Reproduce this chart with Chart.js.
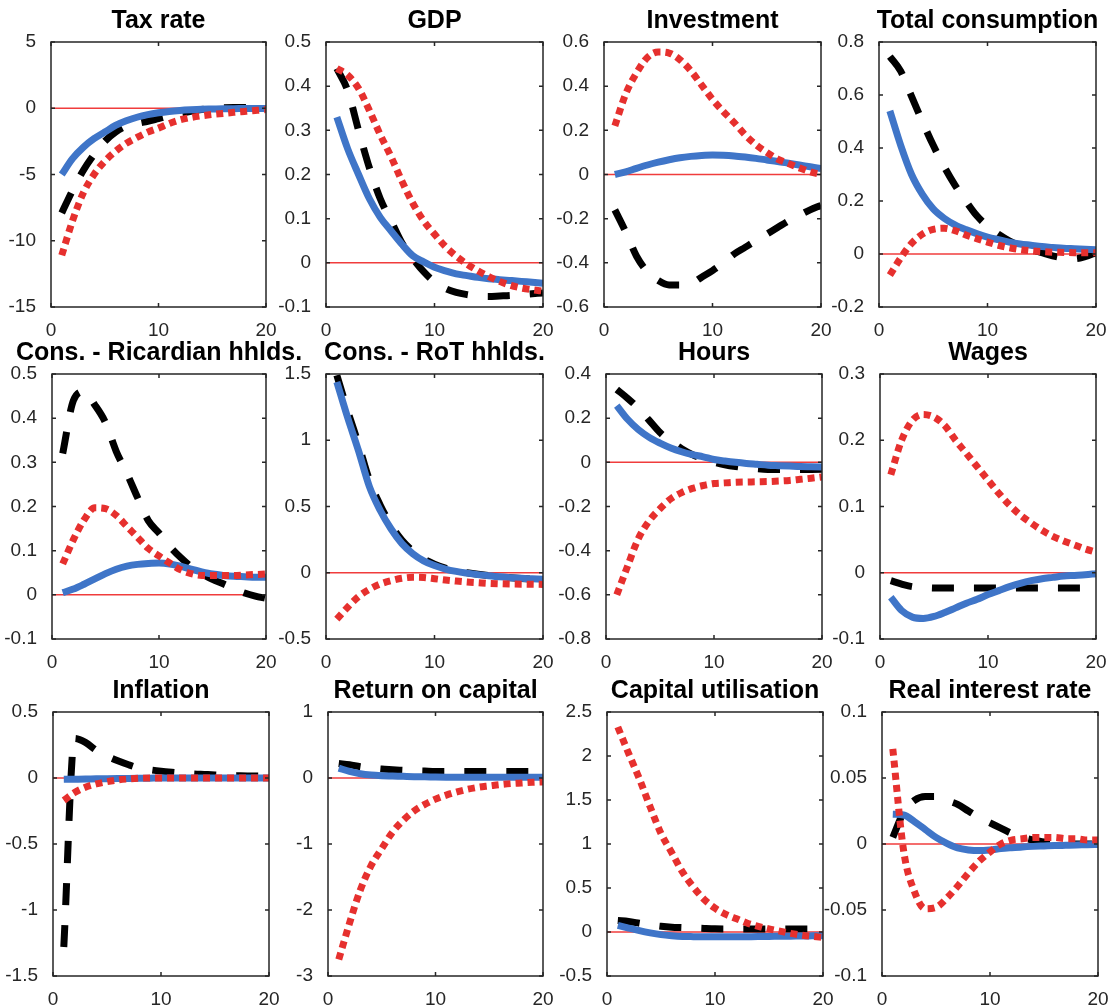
<!DOCTYPE html>
<html>
<head>
<meta charset="utf-8">
<title>Impulse responses</title>
<script src="https://cdn.jsdelivr.net/npm/chart.js@4.4.1/dist/chart.umd.min.js"></script>
<style>
  html, body { margin: 0; padding: 0; background: #fff; }
  #grid { position: relative; width: 1111px; height: 1007px; overflow: hidden; }
  #grid canvas { position: absolute; }
</style>
</head>
<body>
<div id="grid"></div>
<script>
const periods = [1, 2, 3, 4, 5, 6, 7, 8, 9, 10, 11, 12, 13, 14, 15, 16, 17, 18, 19, 20];
const xTicks = [0, 10, 20];

const titles = [
  'Tax rate', 'GDP', 'Investment', 'Total consumption',
  'Cons. - Ricardian hhlds.', 'Cons. - RoT hhlds.', 'Hours', 'Wages',
  'Inflation', 'Return on capital', 'Capital utilisation', 'Real interest rate'
];

// Tax rate
const taxTicks = [-15, -10, -5, 0, 5];
const taxSolid = [-5.0, -3.8, -2.95, -2.3, -1.8, -1.3, -0.95, -0.68, -0.48, -0.34, -0.24, -0.17, -0.12, -0.08, -0.06, -0.04, -0.03, -0.02, -0.01, -0.01];
const taxDashed = [-7.9, -6.2, -4.7, -3.5, -2.5, -1.8, -1.35, -1.15, -0.98, -0.78, -0.58, -0.4, -0.24, -0.1, 0.0, 0.04, 0.05, 0.05, 0.05, 0.05];
const taxDotted = [-11.1, -8.5, -6.4, -5.0, -4.0, -3.25, -2.65, -2.2, -1.8, -1.5, -1.15, -0.88, -0.7, -0.57, -0.47, -0.39, -0.31, -0.24, -0.17, -0.1];

// GDP
const gdpTicks = [-0.1, 0, 0.1, 0.2, 0.3, 0.4, 0.5];
const gdpSolid = [0.33, 0.258, 0.2, 0.145, 0.103, 0.072, 0.042, 0.016, 0.002, -0.01, -0.018, -0.025, -0.029, -0.033, -0.036, -0.038, -0.04, -0.042, -0.044, -0.046];
const gdpDashed = [0.44, 0.39, 0.30, 0.215, 0.145, 0.095, 0.045, 0.01, -0.02, -0.043, -0.058, -0.067, -0.072, -0.075, -0.076, -0.075, -0.074, -0.072, -0.07, -0.068];
const gdpDotted = [0.44, 0.425, 0.395, 0.345, 0.29, 0.24, 0.185, 0.135, 0.095, 0.065, 0.037, 0.015, -0.003, -0.018, -0.031, -0.042, -0.051, -0.057, -0.061, -0.064];

// Investment
const invTicks = [-0.6, -0.4, -0.2, 0, 0.2, 0.4, 0.6];
const invSolid = [0.0, 0.012, 0.028, 0.043, 0.056, 0.067, 0.076, 0.082, 0.086, 0.088, 0.087, 0.084, 0.079, 0.073, 0.066, 0.059, 0.051, 0.043, 0.035, 0.027];
const invDashed = [-0.16, -0.26, -0.37, -0.44, -0.48, -0.5, -0.5, -0.495, -0.465, -0.435, -0.4, -0.36, -0.33, -0.3, -0.27, -0.24, -0.21, -0.185, -0.16, -0.14];
const invDotted = [0.22, 0.365, 0.46, 0.53, 0.555, 0.55, 0.52, 0.47, 0.405, 0.34, 0.285, 0.235, 0.18, 0.135, 0.1, 0.07, 0.05, 0.03, 0.012, 0.0];

// Total consumption
const consTicks = [-0.2, 0, 0.2, 0.4, 0.6, 0.8];
const consSolid = [0.54, 0.41, 0.3, 0.225, 0.17, 0.135, 0.11, 0.092, 0.077, 0.064, 0.054, 0.045, 0.038, 0.033, 0.028, 0.025, 0.022, 0.02, 0.018, 0.016];
const consDashed = [0.745, 0.69, 0.595, 0.5, 0.41, 0.33, 0.26, 0.2, 0.145, 0.105, 0.075, 0.05, 0.032, 0.018, 0.005, -0.007, -0.015, -0.018, -0.01, 0.005];
const consDotted = [-0.08, -0.015, 0.04, 0.075, 0.093, 0.097, 0.088, 0.072, 0.058, 0.045, 0.033, 0.024, 0.017, 0.012, 0.009, 0.007, 0.006, 0.005, 0.005, 0.005];

// Cons. - Ricardian hhlds.
const ricTicks = [-0.1, 0, 0.1, 0.2, 0.3, 0.4, 0.5];
const ricSolid = [0.005, 0.013, 0.024, 0.036, 0.048, 0.058, 0.065, 0.069, 0.071, 0.072, 0.07, 0.065, 0.058, 0.052, 0.047, 0.044, 0.042, 0.041, 0.04, 0.04];
const ricDashed = [0.32, 0.44, 0.46, 0.43, 0.39, 0.325, 0.275, 0.22, 0.168, 0.14, 0.11, 0.085, 0.064, 0.048, 0.035, 0.025, 0.014, 0.004, -0.003, -0.008];
const ricDotted = [0.07, 0.125, 0.17, 0.197, 0.195, 0.18, 0.155, 0.13, 0.105, 0.088, 0.072, 0.057, 0.048, 0.044, 0.044, 0.044, 0.044, 0.045, 0.046, 0.047];

// Cons. - RoT hhlds.
const rotTicks = [-0.5, 0, 0.5, 1, 1.5];
const rotSolid = [1.44, 1.17, 0.92, 0.65, 0.47, 0.33, 0.22, 0.144, 0.09, 0.054, 0.028, 0.01, -0.003, -0.014, -0.023, -0.031, -0.037, -0.042, -0.046, -0.05];
const rotDashed = [1.49, 1.22, 0.97, 0.7, 0.51, 0.36, 0.245, 0.165, 0.105, 0.065, 0.035, 0.014, 0.0, -0.012, -0.022, -0.031, -0.038, -0.044, -0.049, -0.053];
const rotDotted = [-0.35, -0.26, -0.18, -0.125, -0.085, -0.06, -0.042, -0.034, -0.036, -0.045, -0.055, -0.063, -0.07, -0.075, -0.08, -0.083, -0.085, -0.086, -0.087, -0.088];

// Hours
const hoursTicks = [-0.8, -0.6, -0.4, -0.2, 0, 0.2, 0.4];
const hoursSolid = [0.257, 0.195, 0.148, 0.113, 0.087, 0.065, 0.048, 0.035, 0.025, 0.013, 0.006, 0.0, -0.005, -0.009, -0.013, -0.015, -0.017, -0.019, -0.02, -0.021];
const hoursDashed = [0.33, 0.29, 0.245, 0.19, 0.135, 0.095, 0.062, 0.035, 0.015, 0.0, -0.011, -0.019, -0.025, -0.029, -0.032, -0.033, -0.033, -0.033, -0.032, -0.031];
const hoursDotted = [-0.6, -0.47, -0.345, -0.265, -0.21, -0.165, -0.137, -0.118, -0.105, -0.096, -0.093, -0.09, -0.089, -0.088, -0.087, -0.085, -0.082, -0.077, -0.072, -0.066];

// Wages
const wagesTicks = [-0.1, 0, 0.1, 0.2, 0.3];
const wagesSolid = [-0.037, -0.057, -0.067, -0.069, -0.066, -0.06, -0.053, -0.046, -0.04, -0.033, -0.027, -0.021, -0.016, -0.012, -0.009, -0.007, -0.005, -0.004, -0.003, -0.0015];
const wagesDashed = [-0.012, -0.017, -0.021, -0.022, -0.023, -0.023, -0.023, -0.023, -0.023, -0.023, -0.023, -0.023, -0.023, -0.023, -0.023, -0.023, -0.023, -0.023, -0.023, -0.023];
const wagesDotted = [0.148, 0.2, 0.23, 0.239, 0.235, 0.222, 0.2, 0.18, 0.16, 0.14, 0.12, 0.102, 0.087, 0.075, 0.064, 0.055, 0.048, 0.042, 0.036, 0.031];

// Inflation
const inflTicks = [-1.5, -1, -0.5, 0, 0.5];
const inflSolid = [-0.01, -0.009, -0.008, -0.006, -0.005, -0.004, -0.003, -0.002, -0.001, 0, 0, 0, 0, 0, 0, 0, 0, 0, 0, 0];
const inflDashed = [-1.28, 0.3, 0.27, 0.21, 0.165, 0.13, 0.1, 0.075, 0.062, 0.052, 0.044, 0.037, 0.031, 0.027, 0.023, 0.02, 0.018, 0.016, 0.015, 0.014];
const inflDotted = [-0.17, -0.11, -0.07, -0.045, -0.028, -0.015, -0.007, -0.002, 0, 0, 0, 0, 0, 0, 0, 0, 0, 0, 0, 0];

// Return on capital
const rkTicks = [-3, -2, -1, 0, 1];
const rkSolid = [0.15, 0.1, 0.065, 0.045, 0.035, 0.03, 0.025, 0.02, 0.018, 0.015, 0.013, 0.012, 0.011, 0.01, 0.01, 0.01, 0.01, 0.01, 0.01, 0.01];
const rkDashed = [0.22, 0.2, 0.17, 0.15, 0.135, 0.125, 0.115, 0.11, 0.105, 0.1, 0.1, 0.1, 0.1, 0.1, 0.1, 0.1, 0.1, 0.1, 0.1, 0.1];
const rkDotted = [-2.75, -2.2, -1.7, -1.33, -1.07, -0.82, -0.64, -0.5, -0.4, -0.32, -0.26, -0.21, -0.17, -0.14, -0.12, -0.1, -0.085, -0.075, -0.065, -0.06];

// Capital utilisation
const utilTicks = [-0.5, 0, 0.5, 1, 1.5, 2, 2.5];
const utilSolid = [0.075, 0.045, 0.015, -0.01, -0.03, -0.042, -0.05, -0.053, -0.055, -0.055, -0.055, -0.054, -0.053, -0.052, -0.05, -0.049, -0.047, -0.046, -0.044, -0.042];
const utilDashed = [0.13, 0.12, 0.1, 0.08, 0.065, 0.055, 0.05, 0.045, 0.04, 0.036, 0.035, 0.035, 0.035, 0.035, 0.035, 0.035, 0.035, 0.035, 0.035, 0.035];
const utilDotted = [2.33, 2.03, 1.74, 1.42, 1.12, 0.9, 0.68, 0.51, 0.37, 0.27, 0.2, 0.15, 0.1, 0.065, 0.035, 0.01, -0.015, -0.035, -0.05, -0.062];

// Real interest rate
const rirTicks = [-0.1, -0.05, 0, 0.05, 0.1];
const rirSolid = [0.0225, 0.022, 0.017, 0.011, 0.005, 0.0005, -0.003, -0.0045, -0.005, -0.0045, -0.0035, -0.0028, -0.0022, -0.0018, -0.0015, -0.0012, -0.001, -0.0008, -0.0005, -0.0003];
const rirDashed = [0.005, 0.024, 0.033, 0.036, 0.036, 0.033, 0.03, 0.025, 0.02, 0.016, 0.012, 0.008, 0.005, 0.003, 0.0015, 0.001, 0.0005, 0.0, 0.0, 0.0];
const rirDotted = [0.072, -0.005, -0.036, -0.049, -0.048, -0.041, -0.032, -0.022, -0.013, -0.006, 0.0, 0.003, 0.004, 0.005, 0.005, 0.005, 0.004, 0.004, 0.003, 0.003];

const panels = [
  [taxTicks, taxSolid, taxDashed, taxDotted],
  [gdpTicks, gdpSolid, gdpDashed, gdpDotted],
  [invTicks, invSolid, invDashed, invDotted],
  [consTicks, consSolid, consDashed, consDotted],
  [ricTicks, ricSolid, ricDashed, ricDotted],
  [rotTicks, rotSolid, rotDashed, rotDotted],
  [hoursTicks, hoursSolid, hoursDashed, hoursDotted],
  [wagesTicks, wagesSolid, wagesDashed, wagesDotted],
  [inflTicks, inflSolid, inflDashed, inflDotted],
  [rkTicks, rkSolid, rkDashed, rkDotted],
  [utilTicks, utilSolid, utilDashed, utilDotted],
  [rirTicks, rirSolid, rirDashed, rirDotted],
];

// plot-area boxes on the page: left, top, width, height
const boxes = [
  [51, 42, 215, 265], [326, 42, 217, 265], [604, 42, 217, 265], [879, 42, 217, 265],
  [52, 374, 214, 265], [326, 374, 217, 265], [606, 374, 216, 265], [880, 374, 216, 265],
  [53, 712, 216, 264], [328, 712, 215, 264], [607, 712, 216, 264], [882, 712, 216, 264],
];

const AXIS_W = 64, TITLE_H = 42, XAXIS_H = 34;
const FONT = '"Liberation Sans", Arial, Helvetica, sans-serif';
const INK = '#262626';

// MATLAB-like box with inward ticks on all four sides
const boxPlugin = {
  id: 'axesBox',
  afterDatasetsDraw(chart) {
    const { ctx, chartArea: a, scales } = chart;
    ctx.save();
    ctx.strokeStyle = INK;
    ctx.lineWidth = 1.5;
    ctx.strokeRect(a.left, a.top, a.right - a.left, a.bottom - a.top);
    ctx.beginPath();
    scales.x.ticks.forEach(t => {
      const px = scales.x.getPixelForValue(t.value);
      ctx.moveTo(px, a.bottom); ctx.lineTo(px, a.bottom - 4);
      ctx.moveTo(px, a.top); ctx.lineTo(px, a.top + 4);
    });
    scales.y.ticks.forEach(t => {
      const py = scales.y.getPixelForValue(t.value);
      ctx.moveTo(a.left, py); ctx.lineTo(a.left + 4, py);
      ctx.moveTo(a.right, py); ctx.lineTo(a.right - 4, py);
    });
    ctx.stroke();
    ctx.restore();
  }
};

const toPoints = arr => periods.map((p, i) => ({ x: p, y: arr[i] }));

const grid = document.getElementById('grid');

panels.forEach(([yTicks, solid, dashed, dotted], i) => {
  const [L, T, W, H] = boxes[i];
  const canvas = document.createElement('canvas');
  canvas.width = W + 2 * AXIS_W;
  canvas.height = TITLE_H + H + XAXIS_H;
  canvas.style.left = (L - AXIS_W) + 'px';
  canvas.style.top = (T - TITLE_H) + 'px';
  grid.appendChild(canvas);

  new Chart(canvas.getContext('2d'), {
    type: 'line',
    data: {
      datasets: [
        {
          data: toPoints(dotted),
          borderColor: '#e6302e',
          borderWidth: 7,
          borderDash: [7, 5],
          order: 0,
        },
        {
          data: toPoints(solid),
          borderColor: '#3f75c8',
          borderWidth: 7,
          order: 1,
        },
        {
          data: toPoints(dashed),
          borderColor: '#000000',
          borderWidth: 7,
          borderDash: [22, 20],
          order: 2,
        },
        {
          data: [{ x: xTicks[0], y: 0 }, { x: xTicks[xTicks.length - 1], y: 0 }],
          borderColor: '#f03c3c',
          borderWidth: 1.5,
          cubicInterpolationMode: 'default',
          tension: 0,
          order: 3,
        },
      ],
    },
    options: {
      responsive: false,
      devicePixelRatio: 1,
      animation: false,
      events: [],
      layout: { padding: 0 },
      elements: {
        point: { radius: 0 },
        line: { cubicInterpolationMode: 'monotone', fill: false },
      },
      plugins: {
        legend: { display: false },
        tooltip: { enabled: false },
        title: {
          display: true,
          text: titles[i],
          color: '#000',
          font: { family: FONT, size: 25, weight: 'bold', lineHeight: 1.2 },
          padding: { top: 6, bottom: 6 },
        },
      },
      scales: {
        x: {
          type: 'linear',
          min: xTicks[0],
          max: xTicks[xTicks.length - 1],
          afterBuildTicks: s => { s.ticks = xTicks.map(v => ({ value: v })); },
          afterFit: s => { s.height = XAXIS_H; },
          grid: { display: false },
          border: { display: false },
          ticks: {
            color: INK,
            padding: 4,
            maxRotation: 0,
            font: { family: FONT, size: 19 },
            callback: v => String(v),
          },
        },
        y: {
          type: 'linear',
          position: 'left',
          min: yTicks[0],
          max: yTicks[yTicks.length - 1],
          afterBuildTicks: s => { s.ticks = yTicks.map(v => ({ value: v })); },
          afterFit: s => { s.width = AXIS_W; },
          grid: { display: false },
          border: { display: false },
          ticks: {
            color: INK,
            padding: 7,
            font: { family: FONT, size: 19 },
            callback: v => String(v),
          },
        },
        yRight: {
          type: 'linear',
          position: 'right',
          afterFit: s => { s.width = AXIS_W; },
          grid: { display: false },
          border: { display: false },
          ticks: { display: false },
        },
      },
    },
    plugins: [boxPlugin],
  });
});
</script>
</body>
</html>
